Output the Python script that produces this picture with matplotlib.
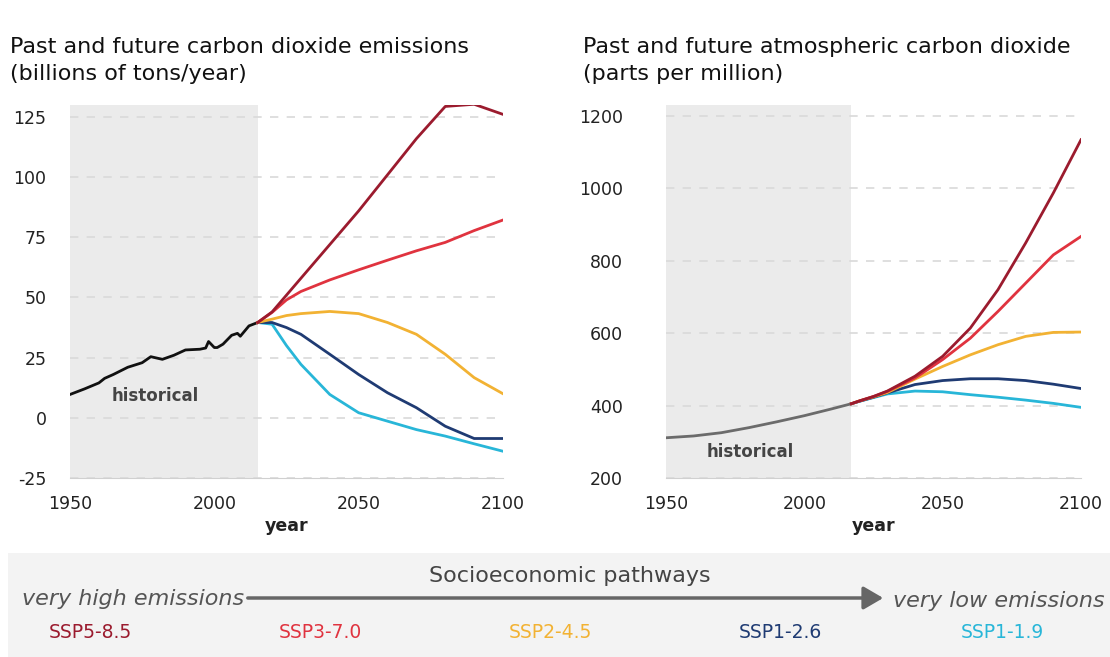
import matplotlib.pyplot as plt
from matplotlib.patches import Rectangle, FancyArrowPatch

# ---- data: emissions (billions of tons / year) ----
hist_em_years = [1950, 1955, 1960, 1962, 1965, 1970, 1975, 1978, 1982, 1986, 1990, 1995, 1997,
                 1998, 2000, 2001, 2003, 2006, 2008, 2009, 2012, 2015]
hist_em = [9.7, 12.0, 14.5, 16.4, 18.0, 21.0, 22.9, 25.4, 24.3, 26.0, 28.2, 28.5, 29.0,
           31.7, 29.2, 29.2, 30.6, 34.3, 35.1, 33.9, 38.2, 39.6]

fut_years = [2015, 2020, 2025, 2030, 2040, 2050, 2060, 2070, 2080, 2090, 2100]
em_ssp585 = [39.6, 44.0, 51.0, 58.0, 72.0, 86.0, 101.0, 116.0, 129.4, 130.3, 126.1]
em_ssp370 = [39.6, 43.8, 49.0, 52.5, 57.3, 61.5, 65.5, 69.4, 72.9, 77.8, 82.2]
em_ssp245 = [39.6, 41.0, 42.5, 43.3, 44.2, 43.3, 39.6, 34.7, 26.4, 16.7, 10.0]
em_ssp126 = [39.6, 39.6, 37.5, 34.7, 26.4, 18.0, 10.4, 4.2, -3.5, -8.6, -8.6]
em_ssp119 = [39.6, 38.9, 30.0, 22.2, 9.7, 2.1, -1.4, -4.9, -7.6, -10.8, -13.9]

# ---- data: concentration (ppm) ----
hist_co2_years = [1950, 1960, 1970, 1980, 1990, 2000, 2010, 2017]
hist_co2 = [311, 316, 325, 339, 355, 372, 391, 405]

fut_co2_years = [2017, 2020, 2025, 2030, 2040, 2050, 2060, 2070, 2080, 2090, 2100]
co2_ssp585 = [405, 413, 425, 440, 481, 536, 614, 720, 849, 987, 1134]
co2_ssp370 = [405, 413, 425, 439, 476, 527, 586, 660, 738, 816, 867]
co2_ssp245 = [405, 413, 424, 436, 473, 508, 540, 568, 591, 602, 603]
co2_ssp126 = [405, 412, 423, 435, 458, 469, 474, 474, 469, 459, 447]
co2_ssp119 = [405, 412, 422, 432, 440, 438, 430, 423, 415, 406, 395]

names = ['SSP5-8.5', 'SSP3-7.0', 'SSP2-4.5', 'SSP1-2.6', 'SSP1-1.9']
colors = ['#9b1b2e', '#e0333f', '#f2b233', '#1f3b73', '#28b6d8']

plt.rcParams['font.family'] = ['DejaVu Sans']

fig = plt.figure(figsize=(11.1, 6.57), dpi=100)
ax1 = fig.add_axes([70 / 1110, 0.2725, 433 / 1110, 0.5677])
ax2 = fig.add_axes([666 / 1110, 0.2725, 415 / 1110, 0.5677])


def style(ax, ylim, yticks, hist_end, ypad):
    ax.set_xlim(1950, 2100)
    ax.set_ylim(*ylim)
    ax.axvspan(1950, hist_end, color='#ebebeb', zorder=0, lw=0)
    for t in yticks:
        ax.axhline(t, color='#d9d9d9', lw=1.2, ls=(0, (5, 5)), zorder=1)
    ax.set_yticks(yticks)
    ax.set_xticks([1950, 2000, 2050, 2100])
    for s in ['top', 'right', 'left']:
        ax.spines[s].set_visible(False)
    ax.spines['bottom'].set_color('#d0d0d0')
    ax.tick_params(length=0, labelsize=12.5, colors='#222222')
    ax.tick_params(axis='x', pad=12)
    ax.tick_params(axis='y', pad=ypad)
    ax.set_xlabel('year', fontsize=12.5, fontweight='bold', color='#222222', labelpad=3)


# left: emissions
style(ax1, (-25, 130), [-25, 0, 25, 50, 75, 100, 125], 2015, 17)
ax1.set_yticklabels(['-25', '0', '25', '50', '75', '100', '125'])
ax1.plot(hist_em_years, hist_em, color='#111111', lw=2, zorder=3)
for vals, c in zip([em_ssp119, em_ssp126, em_ssp245, em_ssp370, em_ssp585], colors[::-1]):
    ax1.plot(fut_years, vals, color=c, lw=2, zorder=3)
ax1.text(1979.5, 9, 'historical', ha='center', va='center', fontsize=12, color='#444444',
         fontweight='semibold')

# right: concentration
style(ax2, (200, 1230), [200, 400, 600, 800, 1000, 1200], 2017, 31)
ax2.plot(hist_co2_years, hist_co2, color='#6b6b6b', lw=2, zorder=3)
for vals, c in zip([co2_ssp119, co2_ssp126, co2_ssp245, co2_ssp370, co2_ssp585], colors[::-1]):
    ax2.plot(fut_co2_years, vals, color=c, lw=2, zorder=3)
ax2.text(1980.5, 272, 'historical', ha='center', va='center', fontsize=12, color='#444444',
         fontweight='semibold')

# titles
for x, lines in [(10, ['Past and future carbon dioxide emissions', '(billions of tons/year)']),
                 (583, ['Past and future atmospheric carbon dioxide', '(parts per million)'])]:
    fig.text(x / 1110, 1 - 47 / 657, lines[0], fontsize=16, color='#111111', va='center')
    fig.text(x / 1110, 1 - 74 / 657, lines[1], fontsize=16, color='#111111', va='center')

# bottom legend panel
fig.patches.append(Rectangle((8 / 1110, 0), 1, 1 - 553 / 657, transform=fig.transFigure,
                             facecolor='#f3f3f3', edgecolor='none', zorder=0))
fig.text(570 / 1110, 1 - 576 / 657, 'Socioeconomic pathways', fontsize=16, color='#444444',
         ha='center', va='center')
fig.text(22 / 1110, 1 - 599 / 657, 'very high emissions', fontsize=16, color='#555555',
         style='italic', ha='left', va='center')
fig.text(1105 / 1110, 1 - 601 / 657, 'very low emissions', fontsize=16, color='#555555',
         style='italic', ha='right', va='center')
fig.patches.append(FancyArrowPatch((245 / 1110, 1 - 598 / 657), (886 / 1110, 1 - 598 / 657),
                                   transform=fig.transFigure,
                                   arrowstyle='-|>,head_length=6,head_width=3.5',
                                   mutation_scale=2, lw=2.5, color='#666666'))
label_x = [90, 320, 550, 780, 1002]
for x, n, c in zip(label_x, names, colors):
    fig.text(x / 1110, 1 - 633 / 657, n, fontsize=13.5, color=c, ha='center', va='center')

fig.savefig('out.png', dpi=100)
